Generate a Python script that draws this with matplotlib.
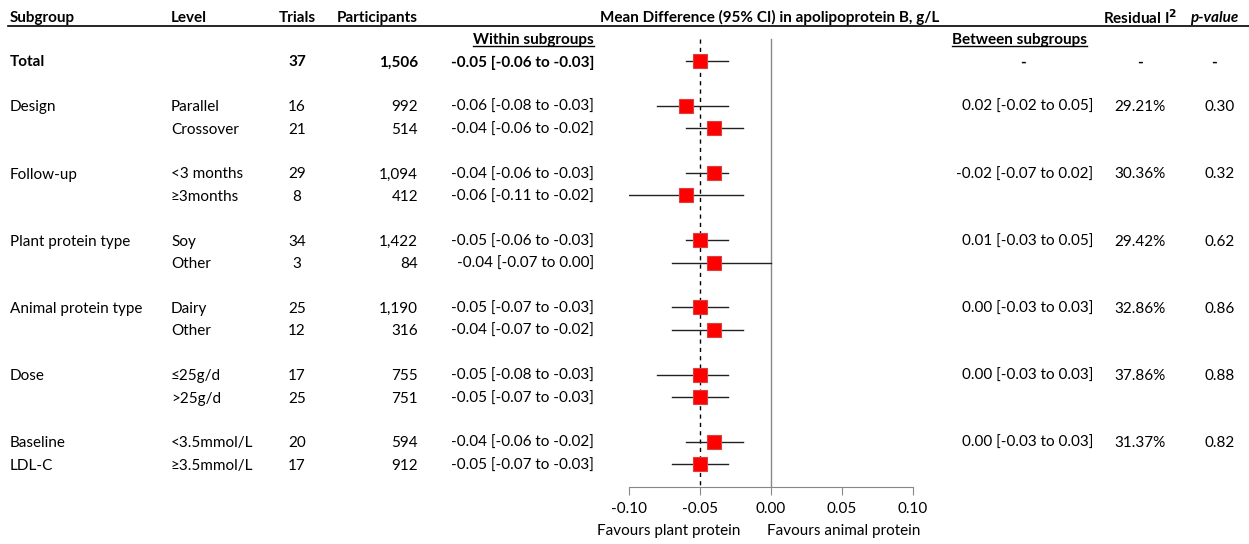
import matplotlib
matplotlib.use("Agg")
import matplotlib.pyplot as plt
import matplotlib.transforms as mtransforms
from matplotlib.lines import Line2D

# ---- data ----
subgroups = ["Total", "Design", "", "Follow-up", "", "Plant protein type", "",
             "Animal protein type", "", "Dose", "", "Baseline", "LDL-C"]
levels = ["", "Parallel", "Crossover", "<3 months", "\u22653months", "Soy", "Other",
          "Dairy", "Other", "\u226425g/d", ">25g/d", "<3.5mmol/L", "\u22653.5mmol/L"]
trials = [37, 16, 21, 29, 8, 34, 3, 25, 12, 17, 25, 20, 17]
participants = [1506, 992, 514, 1094, 412, 1422, 84, 1190, 316, 755, 751, 594, 912]
md = [-0.05, -0.06, -0.04, -0.04, -0.06, -0.05, -0.04, -0.05, -0.04, -0.05, -0.05, -0.04, -0.05]
lo = [-0.06, -0.08, -0.06, -0.06, -0.11, -0.06, -0.07, -0.07, -0.07, -0.08, -0.07, -0.06, -0.07]
hi = [-0.03, -0.03, -0.02, -0.03, -0.02, -0.03, 0.00, -0.03, -0.02, -0.03, -0.03, -0.02, -0.03]
between = ["-", "0.02 [-0.02 to 0.05]", "-0.02 [-0.07 to 0.02]", "0.01 [-0.03 to 0.05]",
           "0.00 [-0.03 to 0.03]", "0.00 [-0.03 to 0.03]", "0.00 [-0.03 to 0.03]"]
resid_i2 = ["-", "29.21%", "30.36%", "29.42%", "32.86%", "37.86%", "31.37%"]
p_values = ["-", "0.30", "0.32", "0.62", "0.86", "0.88", "0.82"]
pooled = -0.05
xticks = [-0.10, -0.05, 0.00, 0.05, 0.10]

# row index of each line (blank row between groups)
rows = [1, 3, 4, 6, 7, 9, 10, 12, 13, 15, 16, 18, 19]
group_rows = [1, 3, 6, 9, 12, 15, 18]

W, H = 1249, 544
plt.rcParams["font.family"] = ["Lato", "DejaVu Sans"]
plt.rcParams["font.size"] = 11

fig = plt.figure(figsize=(W / 100, H / 100), dpi=100)
# forest plot axes: x -0.10..0.10 spans px 629..913, rows -1.5..20 span px 5..486.6
ax = fig.add_axes([629 / W, 1 - 486.6 / H, 284 / W, 481.6 / H])
ax.set_xlim(-0.10, 0.10)
ax.set_ylim(20, -1.5)

def px(x):
    return x / W

tr = mtransforms.blended_transform_factory(fig.transFigure, ax.transData)
VA = "center_baseline"

# reference lines
ax.plot([0, 0], [0, 20], color="#888888", lw=1)
ax.plot([pooled, pooled], [0, 20], color="black", lw=1, ls=(0, (3, 3)))

# CIs and points
for r, m, l, h in zip(rows, md, lo, hi):
    ax.plot([l, h], [r, r], color="#222222", lw=1)
    ax.plot(m, r, marker="s", ms=9.5, mfc="#ff0000", mec="#d94040", mew=0.8)

# axis styling
for s in ["top", "left", "right"]:
    ax.spines[s].set_visible(False)
ax.spines["bottom"].set_color("#888888")
ax.spines["bottom"].set_position(("data", 20))
ax.set_yticks([])
ax.set_xticks(xticks)
ax.set_xticklabels(["%.2f" % t for t in xticks])
ax.tick_params(axis="x", color="#888888", length=6, pad=5, labelsize=11)
ax.patch.set_visible(False)

# header
hy = -1
fig.text(px(10), hy, "Subgroup", transform=tr, fontweight="bold", va=VA)
fig.text(px(171), hy, "Level", transform=tr, fontweight="bold", va=VA)
fig.text(px(297), hy, "Trials", transform=tr, fontweight="bold", va=VA, ha="center")
fig.text(px(418), hy, "Participants", transform=tr, fontweight="bold", va=VA, ha="right")
fig.text(px(770), hy, "Mean Difference (95% CI) in apolipoprotein B, g/L", transform=tr,
         fontweight="bold", va=VA, ha="center")
fig.text(px(1140), hy, "Residual I$^\\mathbf{2}$", transform=tr, fontweight="bold",
         va=VA, ha="center")
fig.text(px(1214), hy, "p-value", transform=tr, fontweight="bold", style="italic",
         va=VA, ha="center")
fig.add_artist(Line2D([8 / W, 1], [1 - 26 / H] * 2, color="black", lw=1.2))

t1 = fig.text(px(594), 0, "Within subgroups", transform=tr, fontweight="bold",
              va=VA, ha="right")
t2 = fig.text(px(1087), 0, "Between subgroups", transform=tr, fontweight="bold",
              va=VA, ha="right")

# body rows
for i, r in enumerate(rows):
    bold = "bold" if i == 0 else "normal"
    fig.text(px(10), r, subgroups[i], transform=tr, va=VA, fontweight=bold)
    fig.text(px(171), r, levels[i], transform=tr, va=VA)
    fig.text(px(297), r, str(trials[i]), transform=tr, va=VA, ha="center", fontweight=bold)
    fig.text(px(418), r, "{:,}".format(participants[i]), transform=tr, va=VA,
             ha="right", fontweight=bold)
    fig.text(px(594), r, "%.2f [%.2f to %.2f]" % (md[i], lo[i], hi[i]), transform=tr,
             va=VA, ha="right", fontweight=bold)

for j, r in enumerate(group_rows):
    if between[j] == "-":
        fig.text(px(1023), r, "-", transform=tr, va=VA, ha="center", fontweight="bold")
    else:
        fig.text(px(1093), r, between[j], transform=tr, va=VA, ha="right")
    fw = "bold" if j == 0 else "normal"
    fig.text(px(1140), r, resid_i2[j], transform=tr, va=VA, ha="center", fontweight=fw)
    fig.text(px(1220 if j else 1214), r, p_values[j], transform=tr, va=VA,
             ha="center", fontweight=fw)

# favours labels
fig.text(px(740), 1 - 530 / H, "Favours plant protein", ha="right", va=VA)
fig.text(px(767), 1 - 530 / H, "Favours animal protein", ha="left", va=VA)

# underline the subheaders
fig.canvas.draw()
rend = fig.canvas.get_renderer()
for t in (t1, t2):
    bb = t.get_window_extent(rend).transformed(fig.transFigure.inverted())
    fig.add_artist(Line2D([bb.x0, bb.x1], [bb.y0 + 0.002] * 2, color="black", lw=1))

fig.savefig("out.png", dpi=100)
